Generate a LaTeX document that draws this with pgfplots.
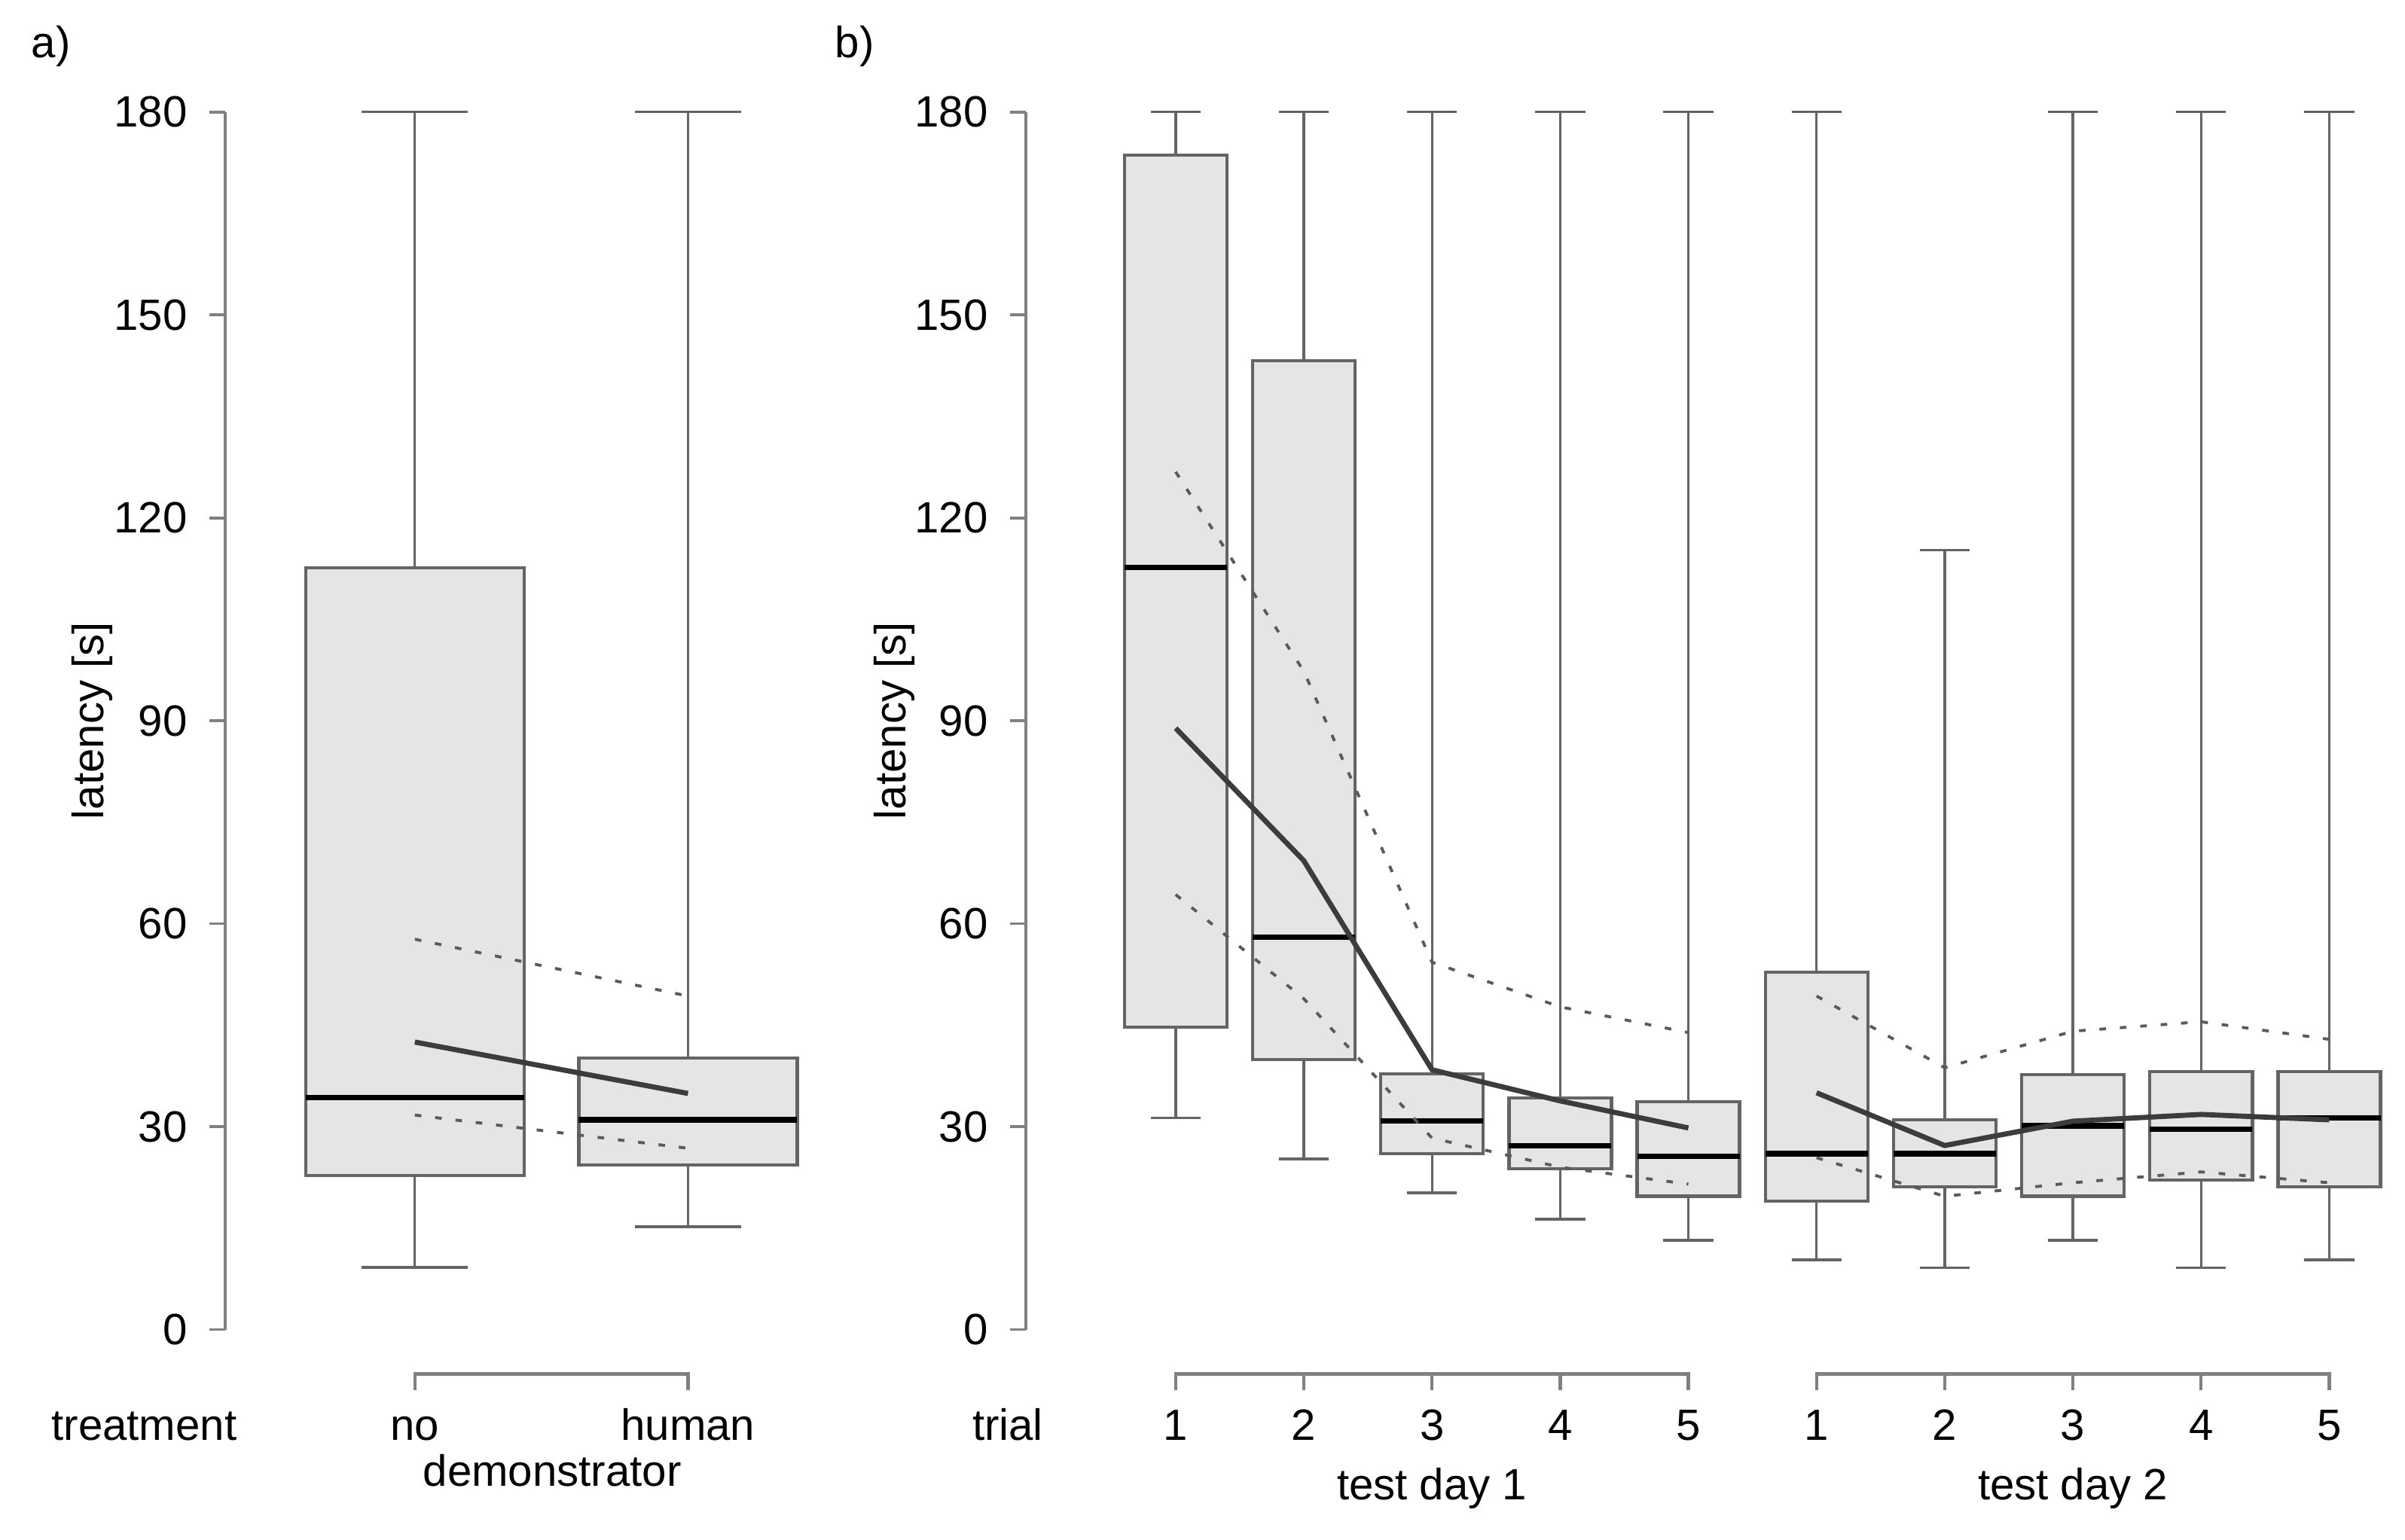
\documentclass[border=0pt]{standalone}
\usepackage{fontspec}
\setmainfont{Liberation Sans}
\usepackage{pgfplots}
\pgfplotsset{compat=1.18}
\usepgfplotslibrary{statistics}
\definecolor{boxfill}{RGB}{229,229,229}
\definecolor{boxline}{RGB}{100,100,100}
\definecolor{axisgray}{RGB}{128,128,128}
\definecolor{meanline}{RGB}{60,60,60}
\definecolor{ciline}{RGB}{90,90,90}
\tikzset{brk/.style={axisgray, line width=0.9pt}}
\pgfplotsset{
  rstyle/.style={
    scale only axis, clip=false,
    ymin=0, ymax=180, ytick={0,30,...,180},
    axis lines*=left,
    x axis line style={draw=none},
    xtick style={draw=none},
    y axis line style={draw=axisgray, line width=0.8pt},
    ytick style={draw=axisgray, line width=0.8pt},
    tick align=outside, major tick length=4.4pt,
    /pgf/number format/assume math mode=true,
    yticklabel style={font=\fontsize{12}{14}\selectfont, anchor=east, inner sep=0pt, xshift=-5.9pt},
    xticklabel style={font=\fontsize{12}{14}\selectfont, anchor=base, inner sep=0pt, yshift=-25.9pt},
    boxplot/draw direction=y,
    boxplot/box extend=0.8,
    boxplot/whisker extend=0.39,
    boxplot/every box/.style={draw=boxline, fill=boxfill, line width=0.9pt},
    boxplot/every whisker/.style={draw=boxline, line width=0.7pt},
    boxplot/every median/.style={draw=black, line width=1.5pt},
  },
  meanst/.style={meanline, line width=1.4pt},
  cist/.style={ciline, line width=0.8pt, dash pattern=on 1.8pt off 3.8pt},
}
\begin{document}
\fontsize{12}{14}\selectfont
\begin{tikzpicture}[x=0.42pt,y=0.42pt]
\path[use as bounding box] (0,0) rectangle (1568,1003.8);
\coordinate (PA) at (147,136.8);
\coordinate (PB) at (669,136.8);
% ---------------- panel a ----------------
\begin{axis}[rstyle,
  at={(PA)}, anchor=south west,
  width=164.05pt, height=333.48pt,
  xmin=0.3066, xmax=2.5,
  xtick={1,2}, xticklabels={no,human}]
\addplot[boxplot prepared={draw position=1, lower whisker=9.2, lower quartile=22.8, median=34.3, upper quartile=112.6, upper whisker=180}] coordinates {};
\addplot[boxplot prepared={draw position=2, lower whisker=15.2, lower quartile=24.3, median=31.0, upper quartile=40.1, upper whisker=180}] coordinates {};
\addplot[cist] coordinates {(1,57.7) (2,49.3)};
\addplot[cist] coordinates {(1,31.7) (2,26.8)};
\addplot[meanst] coordinates {(1,42.5) (2,34.9)};
\draw[brk] (axis cs:1,-8.95) -- (axis cs:1,-6.57) -- (axis cs:2,-6.57) -- (axis cs:2,-8.95);
\end{axis}
% ---------------- panel b ----------------
\begin{axis}[rstyle,
  at={(PB)}, anchor=south west,
  width=377.9pt, height=333.48pt,
  xmin=-0.1667, xmax=10.6,
  xtick={1,...,10}, xticklabels={1,2,3,4,5,1,2,3,4,5}]
\addplot[boxplot prepared={draw position=1, lower whisker=31.3, lower quartile=44.7, median=112.7, upper quartile=173.6, upper whisker=180}] coordinates {};
\addplot[boxplot prepared={draw position=2, lower whisker=25.2, lower quartile=39.9, median=58.0, upper quartile=143.2, upper whisker=180}] coordinates {};
\addplot[boxplot prepared={draw position=3, lower whisker=20.2, lower quartile=26.0, median=30.8, upper quartile=37.8, upper whisker=180}] coordinates {};
\addplot[boxplot prepared={draw position=4, lower whisker=16.3, lower quartile=23.8, median=27.2, upper quartile=34.2, upper whisker=180}] coordinates {};
\addplot[boxplot prepared={draw position=5, lower whisker=13.2, lower quartile=19.7, median=25.6, upper quartile=33.7, upper whisker=180}] coordinates {};
\addplot[boxplot prepared={draw position=6, lower whisker=10.3, lower quartile=19.0, median=26.0, upper quartile=52.8, upper whisker=180}] coordinates {};
\addplot[boxplot prepared={draw position=7, lower whisker=9.1, lower quartile=21.1, median=26.0, upper quartile=31.0, upper whisker=115.2}] coordinates {};
\addplot[boxplot prepared={draw position=8, lower whisker=13.2, lower quartile=19.7, median=30.1, upper quartile=37.7, upper whisker=180}] coordinates {};
\addplot[boxplot prepared={draw position=9, lower whisker=9.1, lower quartile=22.1, median=29.6, upper quartile=38.1, upper whisker=180}] coordinates {};
\addplot[boxplot prepared={draw position=10, lower whisker=10.3, lower quartile=21.1, median=31.3, upper quartile=38.1, upper whisker=180}] coordinates {};
% test day 1
\addplot[cist] coordinates {(1,126.8) (2,97.3) (3,54.3) (4,47.7) (5,43.9)};
\addplot[cist] coordinates {(1,64.3) (2,48.9) (3,28.3) (4,24.0) (5,21.5)};
\addplot[meanst] coordinates {(1,88.9) (2,69.3) (3,38.4) (4,33.8) (5,29.8)};
% test day 2
\addplot[cist] coordinates {(6,49.3) (7,38.7) (8,44.1) (9,45.5) (10,42.9)};
\addplot[cist] coordinates {(6,25.4) (7,19.7) (8,21.7) (9,23.3) (10,21.7)};
\addplot[meanst] coordinates {(6,35.0) (7,27.2) (8,30.8) (9,31.8) (10,31.0)};
\draw[brk] (axis cs:1,-8.95) -- (axis cs:1,-6.57) -- (axis cs:5,-6.57) -- (axis cs:5,-8.95);
\draw[brk] (axis cs:6,-8.95) -- (axis cs:6,-6.57) -- (axis cs:10,-6.57) -- (axis cs:10,-8.95);
\draw[brk] (axis cs:2,-8.95) -- (axis cs:2,-6.57);
\draw[brk] (axis cs:3,-8.95) -- (axis cs:3,-6.57);
\draw[brk] (axis cs:4,-8.95) -- (axis cs:4,-6.57);
\draw[brk] (axis cs:7,-8.95) -- (axis cs:7,-6.57);
\draw[brk] (axis cs:8,-8.95) -- (axis cs:8,-6.57);
\draw[brk] (axis cs:9,-8.95) -- (axis cs:9,-6.57);
\end{axis}
% ---------------- texts ----------------
\node[anchor=base west, inner sep=0pt] at (20,1003.8-37.5) {a)};
\node[anchor=base west, inner sep=0pt] at (544,1003.8-37.5) {b)};
\node[rotate=90, inner sep=0pt] at (60,1003.8-470) {latency [s]};
\node[rotate=90, inner sep=0pt] at (583,1003.8-470) {latency [s]};
\node[anchor=base, inner sep=0pt] at (94,1003.8-939) {treatment};
\node[anchor=base, inner sep=0pt] at (360,1003.8-969) {demonstrator};
\node[anchor=base, inner sep=0pt] at (657,1003.8-939) {trial};
\node[anchor=base, inner sep=0pt] at (933.6,1003.8-978) {test day 1};
\node[anchor=base, inner sep=0pt] at (1351.5,1003.8-978) {test day 2};
\end{tikzpicture}
\end{document}
